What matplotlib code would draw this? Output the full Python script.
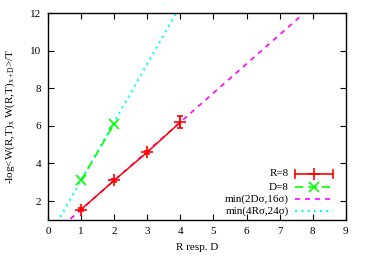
import matplotlib
matplotlib.use("Agg")
import matplotlib.pyplot as plt
import numpy as np

plt.rcParams['font.family'] = ['Liberation Serif', 'DejaVu Serif']
plt.rcParams['mathtext.fontset'] = 'custom'
plt.rcParams['mathtext.rm'] = 'Liberation Serif'
plt.rcParams['mathtext.it'] = 'Liberation Serif:italic'
plt.rcParams['font.size'] = 8

# data
r_x = [1, 2, 3, 4]
r_y = [1.55, 3.1, 4.6, 6.2]
r_err = [0.08, 0.08, 0.08, 0.3]
d_x = [1, 2]
d_y = [3.1, 6.1]
sigma = 0.775

fig = plt.figure(figsize=(3.66, 2.56), dpi=100)
ax = fig.add_axes([0.131, 0.141, 0.814, 0.808])

xs = np.linspace(0, 9, 400)
ax.plot(xs, np.minimum(2 * xs * sigma, 16 * sigma), color='#ff00ff', lw=1.2,
        ls=(0, (3, 3)), zorder=2)
ax.plot(xs, np.minimum(4 * xs * sigma, 24 * sigma), color='#00ffff', lw=1.5,
        ls=(0, (1, 2)), zorder=2)
ax.errorbar(r_x, r_y, yerr=r_err, color='#ff0000', marker='+', ms=9, mew=1.2,
            lw=1.1, capsize=2.5, elinewidth=1.1, zorder=3)
ax.plot(d_x, d_y, color='#00ff00', marker='x', ms=7, mew=1.2, lw=1.2,
        ls=(0, (5, 3)), zorder=3)

ax.set_xlim(0, 9)
ax.set_ylim(1, 12)
ax.set_xticks(range(0, 10))
ax.set_yticks(range(2, 13, 2))
ax.tick_params(direction='in', length=4, width=0.8, top=True, right=True,
               labelsize=8, pad=5)
for s in ax.spines.values():
    s.set_linewidth(1.0)

ax.set_xlabel('R resp. D', fontsize=8, labelpad=5)
ax.set_ylabel(r'-log<W(R,T)$_\mathrm{x}$ W(R,T)$_\mathrm{x+D}$>/T', fontsize=8,
              labelpad=9)

# gnuplot-style key: right-aligned text, sample on the right
tr = ax.transAxes
key = [('R=8', 0.222), ('D=8', 0.159), ('min(2D\u03c3,16\u03c3)', 0.101),
       ('min(4R\u03c3,24\u03c3)', 0.043)]
for label, ky in key:
    ax.text(0.809, ky, label, transform=tr, ha='right', va='center', fontsize=8)
ax.plot([0.829, 0.956], [0.222, 0.222], transform=tr, color='#ff0000', lw=1.2,
        clip_on=False)
ax.plot([0.829, 0.829], [0.205, 0.239], transform=tr, color='#ff0000', lw=1.2, clip_on=False)
ax.plot([0.956, 0.956], [0.205, 0.239], transform=tr, color='#ff0000', lw=1.2, clip_on=False)
ax.plot([0.8925], [0.222], transform=tr, color='#ff0000', marker='+', ms=9, mew=1.2)
ax.plot([0.829, 0.956], [0.159, 0.159], transform=tr, color='#00ff00', lw=1.2,
        ls=(0, (5, 3)))
ax.plot([0.8925], [0.159], transform=tr, color='#00ff00', marker='x', ms=7, mew=1.2)
ax.plot([0.829, 0.956], [0.101, 0.101], transform=tr, color='#ff00ff', lw=1.2,
        ls=(0, (3, 3)))
ax.plot([0.829, 0.956], [0.043, 0.043], transform=tr, color='#00ffff', lw=1.5,
        ls=(0, (1, 2)))

fig.savefig('out.png', dpi=100)
